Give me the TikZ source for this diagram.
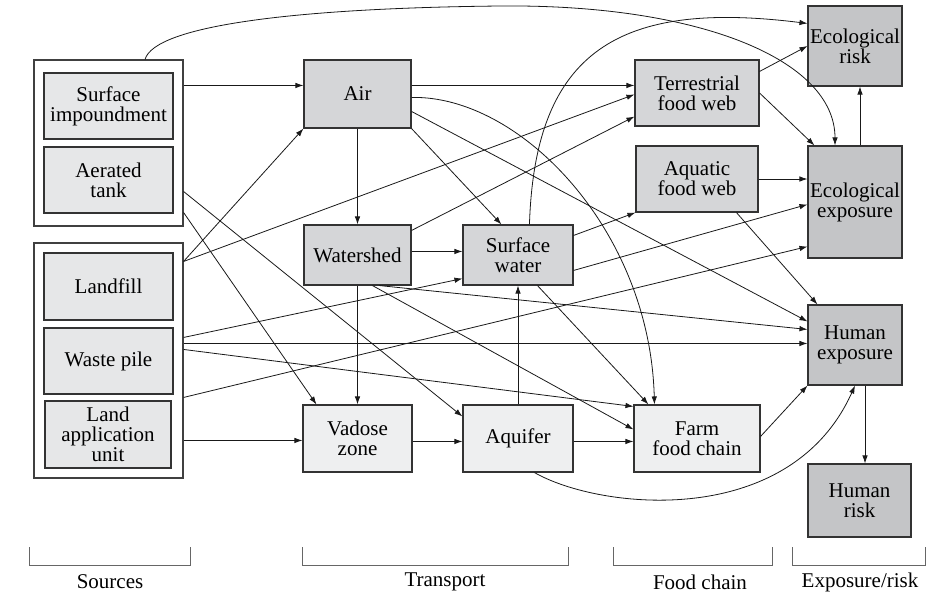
\documentclass[tikz,border=0pt]{standalone}
\usepackage{fontspec}
\setmainfont{Liberation Serif}
\usetikzlibrary{arrows.meta,calc}

\definecolor{riskgray}{HTML}{C4C5C7}
\definecolor{flowgray}{HTML}{D5D6D8}
\definecolor{srcgray}{HTML}{E6E7E8}
\definecolor{palegray}{HTML}{EEEFF0}

\tikzset{
    box/.style={draw=black!80,line width=1.1pt,align=center,inner sep=0pt,
        font=\fontsize{21}{20}\selectfont},
    group/.style={draw=black!75,line width=1.1pt,fill=white},
    src/.style={box,fill=srcgray,minimum width=129},
    flow/.style={box,fill=flowgray},
    pale/.style={box,fill=palegray},
    dark/.style={box,fill=riskgray},
    link/.style={->,line width=0.8pt,draw=black!90},
    bracket/.style={draw=black!60,line width=0.9pt},
    caption/.style={font=\fontsize{21}{20}\selectfont}
}

\begin{document}
\begin{tikzpicture}[x=1pt,y=-1pt,>={Latex[length=8pt,width=5.5pt]}]
    \useasboundingbox (0,0) rectangle (926,614);

    % sources
    \node[group,minimum width=149,minimum height=166] (srcA) at (108.5,143) {};
    \node[group,minimum width=149,minimum height=235] (srcB) at (108.5,360.5) {};
    \node[src,minimum height=66] (impound) at (108.5,106) {Surface\\impoundment};
    \node[src,minimum height=66] (aerated) at (108.5,180) {Aerated\\tank};
    \node[src,minimum height=67] (landfill) at (108.5,286.5) {Landfill};
    \node[src,minimum height=66] (wastepile) at (108.5,361) {Waste pile};
    \node[src,minimum width=126,minimum height=67] (landapp) at (108,434.5) {Land\\application\\unit};

    % transport
    \node[flow,minimum width=107,minimum height=68] (air) at (357.5,94) {Air};
    \node[flow,minimum width=107,minimum height=60] (watershed) at (357.5,255) {Watershed};
    \node[flow,minimum width=110,minimum height=60] (surfwater) at (518,255) {Surface\\water};
    \node[pale,minimum width=109,minimum height=67] (vadose) at (357.5,438.5) {Vadose\\zone};
    \node[pale,minimum width=110,minimum height=67] (aquifer) at (518,438.5) {Aquifer};

    % food chain
    \node[flow,minimum width=124,minimum height=66] (terrweb) at (697,93) {Terrestrial\\food web};
    \node[flow,minimum width=122,minimum height=66] (aquaweb) at (697,179) {Aquatic\\food web};
    \node[pale,minimum width=126,minimum height=67] (farm) at (697,438.5) {Farm\\food chain};

    % exposure and risk
    \node[dark,minimum width=94,minimum height=80] (ecorisk) at (855,46) {Ecological\\risk};
    \node[dark,minimum width=94,minimum height=112] (ecoexp) at (855,202) {Ecological\\exposure};
    \node[dark,minimum width=94,minimum height=80] (humexp) at (855,345) {Human\\exposure};
    \node[dark,minimum width=103,minimum height=73] (humrisk) at (859.5,500.5) {Human\\risk};

    % links out of the sources
    \draw[link] ($(srcA.north)+(36.5,0)$) .. controls (155,25) and (300,8) .. (500,6)
        .. controls (700,4) and (835,60) .. ($(ecoexp.north)+(-20,0)$);
    \draw[link] ($(srcA.north east)+(0,26)$) -- ($(air.north west)+(0,26)$);
    \draw[link] ($(srcA.north east)+(0,132)$) -- ($(aquifer.north west)+(0,12)$);
    \draw[link] ($(srcA.north east)+(0,153)$) -- ($(vadose.north west)+(14,0)$);
    \draw[link] ($(srcB.north east)+(0,19)$) -- (air.south west);
    \draw[link] ($(srcB.north east)+(0,19)$) -- ($(terrweb.north west)+(0,35)$);
    \draw[link] ($(srcB.north east)+(0,95)$) -- ($(surfwater.south west)+(0,-7)$);
    \draw[link] ($(srcB.north east)+(0,101)$) -- ($(humexp.north west)+(0,39)$);
    \draw[link] ($(srcB.north east)+(0,107)$) -- ($(farm.north west)+(0,2)$);
    \draw[link] ($(srcB.north east)+(0,155)$) -- ($(ecoexp.south west)+(0,-12)$);
    \draw[link] ($(srcB.north east)+(0,198)$) -- ($(vadose.north west)+(0,36)$);

    % links out of transport
    \draw[link] ($(air.north east)+(0,26)$) -- ($(terrweb.north west)+(0,26)$);
    \draw[link] (air.south) -- (watershed.north);
    \draw[link] ($(air.north east)+(0,38)$) .. controls (520,95) and (650,230) .. ($(farm.north west)+(21,0)$);
    \draw[link] ($(air.north east)+(0,52)$) -- ($(humexp.north west)+(0,17)$);
    \draw[link] (air.south east) -- ($(surfwater.north west)+(39,0)$);
    \draw[link] ($(watershed.north east)+(0,27)$) -- ($(surfwater.north west)+(0,27)$);
    \draw[link] ($(watershed.north east)+(0,6)$) -- ($(terrweb.south west)+(0,-10)$);
    \draw[link] (watershed.south) -- (vadose.north);
    \draw[link] ($(watershed.south west)+(69,0)$) -- ($(farm.north west)+(0,25)$);
    \draw[link] ($(watershed.south west)+(76,0)$) -- ($(humexp.north west)+(0,25)$);
    \draw[link] ($(surfwater.north west)+(67,0)$) .. controls (535,50) and (620,0) .. ($(ecorisk.north west)+(0,18)$);
    \draw[link] ($(surfwater.north east)+(0,11)$) -- (aquaweb.south west);
    \draw[link] ($(surfwater.north east)+(0,46)$) -- ($(ecoexp.north west)+(0,59)$);
    \draw[link] ($(surfwater.south west)+(75,0)$) -- ($(farm.north west)+(15,0)$);
    \draw[link] (aquifer.north) -- (surfwater.south);
    \draw[link] ($(vadose.north east)+(0,37)$) -- ($(aquifer.north west)+(0,37)$);
    \draw[link] ($(aquifer.north east)+(0,37)$) -- ($(farm.north west)+(0,37)$);
    \draw[link] ($(aquifer.south west)+(72,0)$) .. controls (600,510) and (790,530) .. (humexp.south);

    % links out of the food chain
    \draw[link] ($(farm.north east)+(0,32)$) -- (humexp.south west);
    \draw[link] ($(terrweb.north east)+(0,12)$) -- (ecorisk.west);
    \draw[link] (terrweb.east) -- ($(ecoexp.north west)+(7,0)$);
    \draw[link] (aquaweb.east) -- (aquaweb.east -| ecoexp.west);
    \draw[link] ($(aquaweb.south west)+(101,0)$) -- ($(humexp.north west)+(10,0)$);
    \draw[link] ($(ecoexp.north)+(5,0)$) -- ($(ecorisk.south)+(5,0)$);
    \draw[link] ($(humexp.south)+(10,0)$) -- ($(humrisk.north)+(5.5,0)$);

    % brackets along the bottom
    \foreach \xa/\xb/\xl/\name in {29/190/110/Sources, 302/568/445/Transport,
            613/772/700/Food chain, 792/925/860/{Exposure/risk}}{
        \draw[bracket] (\xa,547) |- (\xb,565) -- (\xb,547);
        \node[caption] (tag\xa) at (\xl,582) {\name};
    }
\end{tikzpicture}
\end{document}
